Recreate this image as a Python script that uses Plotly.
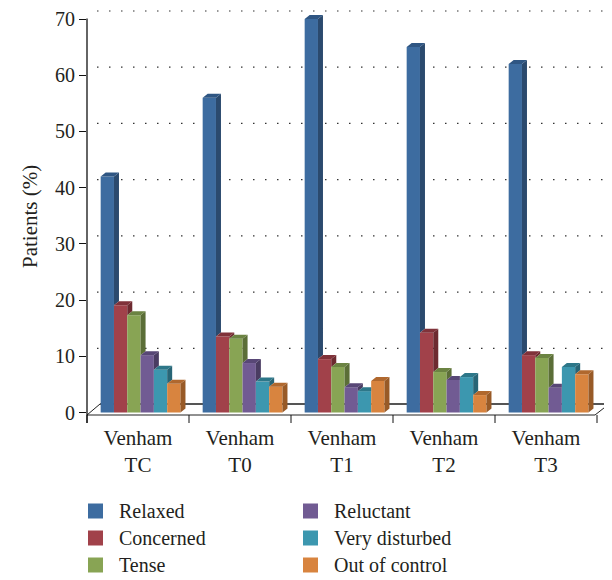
import plotly.graph_objects as go

# ---------------- data ----------------
categories = ["Venham<br>TC", "Venham<br>T0", "Venham<br>T1", "Venham<br>T2", "Venham<br>T3"]
series_names = ["Relaxed", "Concerned", "Tense", "Reluctant", "Very disturbed", "Out of control"]
relaxed = [42.0, 56.0, 70.0, 65.0, 62.0]
concerned = [19.1, 13.5, 9.5, 14.2, 10.2]
tense = [17.3, 13.1, 8.1, 7.2, 9.7]
reluctant = [10.2, 8.8, 4.5, 5.8, 4.4]
very_disturbed = [7.6, 5.5, 3.8, 6.3, 8.1]
out_of_control = [5.1, 4.6, 5.6, 3.1, 6.8]
y_ticks = [0, 10, 20, 30, 40, 50, 60, 70]

# ---------------- style ----------------
front_cols = ["#3D6CA0", "#A1414A", "#88A454", "#715B93", "#3C97AF", "#D8843F"]
top_cols = ["#2F5683", "#80323A", "#6B8342", "#584776", "#2D7789", "#B0682E"]
side_cols = ["#2B4A6E", "#6D2A30", "#5B6E37", "#4A3C62", "#286576", "#985A27"]
FONT = "Liberation Serif"
FS = 20

OFF = 8                                # page body margin in the browser
W_PX, H_PX = 612 - OFF, 580 - OFF
# positions below are in window pixels
L, R, T, B = 87, 610, 8, 415           # plot area
PX_PER_CAT = 102.0                     # front category width
ZERO_PX, TOP70_PX = 412.5, 19.0
K = (ZERO_PX - TOP70_PX) / 70.0        # px per y unit
x_lo = -0.5
x_hi = -0.5 + (R - L) / PX_PER_CAT
y_lo = -(B - ZERO_PX) / K
y_hi = (ZERO_PX - T) / K

BAR_W = 13.3 / PX_PER_CAT
GROUP_OFF = -0.366
DX = 5.0 / PX_PER_CAT
DY = 4.0 / K

def px_x(px):
    return (px - L) / (R - L)

def px_y(py):
    return (B - py) / (B - T)

values = [relaxed, concerned, tense, reluctant, very_disturbed, out_of_control]

fig = go.Figure()

# front faces as bars
for k, (name, vals) in enumerate(zip(series_names, values)):
    fig.add_trace(go.Bar(
        x=list(range(len(categories))), y=vals, name=name,
        width=BAR_W, offset=GROUP_OFF + k * BAR_W,
        marker=dict(color=front_cols[k], line=dict(width=0)),
        showlegend=False, hoverinfo="skip",
    ))

# 3D side and top faces
for k, vals in enumerate(values):
    sx, sy, tx, ty = [], [], [], []
    for i, h in enumerate(vals):
        x0 = i + GROUP_OFF + k * BAR_W
        x1 = x0 + BAR_W
        hn = values[k + 1][i] if k < len(values) - 1 else 0.0
        if h > hn:
            sx += [x1, x1, x1 + DX, x1 + DX, x1, None]
            sy += [hn, h, h + DY, hn + DY, hn, None]
        if k < len(values) - 1 and hn > h:
            tx += [x0, x1, x1, x0 + DX, x0, None]
            ty += [h, h, h + DY, h + DY, h, None]
        else:
            tx += [x0, x1, x1 + DX, x0 + DX, x0, None]
            ty += [h, h, h + DY, h + DY, h, None]
    if sx:
        fig.add_trace(go.Scatter(x=sx, y=sy, mode="lines", fill="toself",
                                 fillcolor=side_cols[k], line=dict(width=0),
                                 showlegend=False, hoverinfo="skip"))
    fig.add_trace(go.Scatter(x=tx, y=ty, mode="lines", fill="toself",
                             fillcolor=top_cols[k], line=dict(width=0),
                             showlegend=False, hoverinfo="skip"))

shapes = []
# back-wall dotted gridlines
for v in y_ticks[1:]:
    shapes.append(dict(type="line", xref="paper", yref="y",
                       x0=px_x(97), x1=px_x(610), y0=v + 8 / K, y1=v + 8 / K,
                       line=dict(color="#333333", width=1.2, dash="1.5px,10.5px"),
                       layer="below"))
# floor
floor_line = dict(color="#222222", width=1)
shapes += [
    dict(type="line", xref="paper", yref="paper", x0=px_x(87), x1=px_x(595),
         y0=px_y(415), y1=px_y(415), line=floor_line),
    dict(type="line", xref="paper", yref="paper", x0=px_x(100), x1=px_x(609),
         y0=px_y(404), y1=px_y(404), line=dict(color="#555555", width=2), layer="below"),
    dict(type="line", xref="paper", yref="paper", x0=px_x(87), x1=px_x(100),
         y0=px_y(415), y1=px_y(404), line=floor_line),
    dict(type="line", xref="paper", yref="paper", x0=px_x(595), x1=px_x(609),
         y0=px_y(415), y1=px_y(404), line=floor_line),
    # y axis line
    dict(type="line", xref="paper", yref="paper", x0=px_x(87), x1=px_x(87),
         y0=px_y(18.5), y1=px_y(423), line=dict(color="#111111", width=1.3)),
]
# category boundary ticks
for j in range(len(categories) + 1):
    xp = L + j * PX_PER_CAT
    shapes.append(dict(type="line", xref="paper", yref="paper", x0=px_x(xp), x1=px_x(xp),
                       y0=px_y(415), y1=px_y(423), line=dict(color="#111111", width=1)))

# legend (two columns, drawn as swatches + text)
annotations = [dict(text="Patients (%)", xref="paper", yref="paper",
                    x=px_x(30), y=px_y(217), textangle=-90, showarrow=False,
                    font=dict(family=FONT, size=21), xanchor="center", yanchor="middle")]
leg_cols_px = [88, 303]
leg_rows_px = [511, 538, 565]
for k, name in enumerate(series_names):
    cx = leg_cols_px[k // 3]
    cy = leg_rows_px[k % 3]
    shapes.append(dict(type="rect", xref="paper", yref="paper",
                       x0=px_x(cx), x1=px_x(cx + 15), y0=px_y(cy - 7.5), y1=px_y(cy + 7.5),
                       fillcolor=front_cols[k], line=dict(width=0)))
    annotations.append(dict(text=name, xref="paper", yref="paper",
                            x=px_x(cx + 29), y=px_y(cy), xanchor="left", yanchor="middle",
                            showarrow=False, font=dict(family=FONT, size=FS)))

fig.update_layout(
    width=W_PX, height=H_PX,
    margin=dict(l=L - OFF, r=W_PX - (R - OFF), t=T - OFF, b=H_PX - (B - OFF), autoexpand=False),
    paper_bgcolor="white", plot_bgcolor="white",
    barmode="overlay",
    font=dict(family=FONT, size=FS, color="#231F20"),
    shapes=shapes,
    annotations=annotations,
    showlegend=False,
)
fig.update_xaxes(range=[x_lo, x_hi], tickvals=list(range(len(categories))), ticktext=categories,
                 showgrid=False, zeroline=False, showline=False, ticks="", automargin=False,
                 ticklabelstandoff=8, tickfont=dict(family=FONT, size=21))
fig.update_yaxes(range=[y_lo, y_hi], tickvals=y_ticks, showgrid=False, zeroline=False,
                 showline=False, ticks="outside", ticklen=7, tickcolor="#111111",
                 tickwidth=1.3, ticklabelstandoff=0, automargin=False,
                 tickfont=dict(family=FONT, size=FS))

fig.write_html("out.html")
